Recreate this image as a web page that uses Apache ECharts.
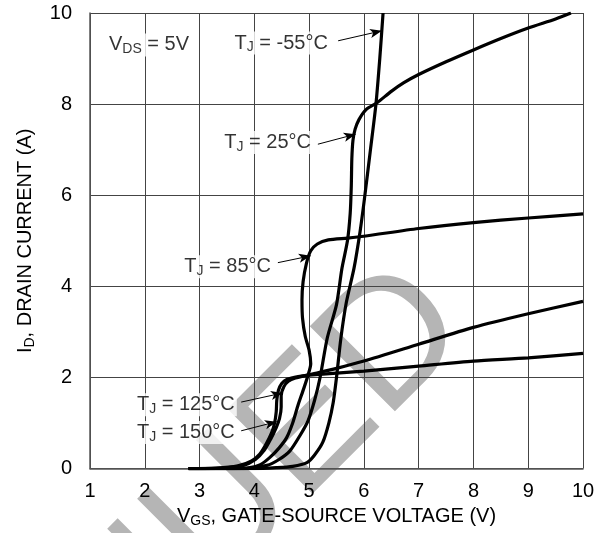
<!DOCTYPE html>
<html>
<head>
<meta charset="utf-8">
<script src="https://cdn.jsdelivr.net/npm/echarts@6/dist/echarts.min.js"></script>
<style>
  html, body { margin: 0; padding: 0; background: #fff; }
  #main { width: 608px; height: 533px; }
</style>
</head>
<body>
<div id="main"></div>
<script>
// V_GS (V), I_D (A) pairs
var tjM55 = [[2.8,0],[4.0,0],[4.4,0.02],[4.7,0.05],[4.96,0.13],[5.1,0.3],[5.25,0.58],[5.36,1.0],[5.44,1.45],[5.5,2.0],[5.58,2.86],[5.68,3.65],[5.82,4.4],[5.93,5.2],[6.01,5.92],[6.12,7.0],[6.22,8.0],[6.29,9.0],[6.35,10]];
var tj25 = [[2.8,0],[3.8,0],[4.23,0.07],[4.45,0.2],[4.65,0.39],[4.82,0.7],[4.98,1.05],[5.1,1.5],[5.2,2.0],[5.33,2.86],[5.5,3.6],[5.6,4.4],[5.7,5.0],[5.75,5.6],[5.77,6.2],[5.78,6.8],[5.8,7.2],[5.84,7.45],[5.91,7.66],[6.04,7.88],[6.24,8.03],[6.5,8.28],[6.73,8.47],[7.0,8.65],[7.5,8.93],[8.0,9.19],[8.5,9.44],[9.0,9.67],[9.5,9.87],[9.78,10]];
var tj85 = [[2.8,0],[3.6,0],[3.92,0.02],[4.1,0.08],[4.28,0.24],[4.45,0.45],[4.59,0.68],[4.7,1.0],[4.8,1.4],[4.9,1.75],[4.98,2.05],[5.03,2.3],[5.0,2.6],[4.93,2.9],[4.88,3.3],[4.87,3.7],[4.89,4.1],[4.95,4.5],[5.03,4.78],[5.15,4.93],[5.35,5.02],[5.7,5.06],[6.0,5.1],[7.0,5.27],[8.0,5.4],[9.0,5.5],[10,5.59]];
var tj125 = [[2.8,0],[3.4,0.01],[3.8,0.07],[4.02,0.2],[4.18,0.4],[4.3,0.65],[4.4,0.9],[4.46,1.1],[4.49,1.35],[4.49,1.6],[4.54,1.8],[4.62,1.92],[4.75,1.99],[5.0,2.06],[5.5,2.2],[6,2.36],[7,2.73],[8,3.1],[9,3.4],[10,3.67]];
var tj150 = [[2.8,0],[3.3,0.01],[3.7,0.06],[3.95,0.17],[4.1,0.32],[4.22,0.55],[4.32,0.8],[4.37,1.0],[4.4,1.25],[4.41,1.5],[4.44,1.72],[4.5,1.87],[4.6,1.96],[4.8,2.02],[5.0,2.05],[6,2.14],[7,2.25],[8,2.36],[9,2.43],[10,2.53]];

// callouts: text, where the text ends, arrow start, arrow tip
var noteText = ['-55°C', '25°C', '85°C', '125°C', '150°C'];
var noteAt = [[5.38,9.34],[5.07,7.16],[4.34,4.43],[3.68,1.40],[3.68,0.79]];
var arrowFrom = [[5.53,9.39],[5.16,7.12],[4.43,4.52],[3.76,1.46],[3.76,0.83]];
var arrowTo = [[6.33,9.61],[5.85,7.34],[5.03,4.67],[4.52,1.66],[4.41,1.03]];
var vdsAt = [1.31, 9.30];

var FONT = '"Liberation Sans", Arial, sans-serif';
var rich = {
  m: { fontSize: 20, fontFamily: FONT, color: '#000', lineHeight: 23 },
  s: { fontSize: 14, fontFamily: FONT, color: '#000', lineHeight: 12, verticalAlign: 'bottom' }
};

var curve = function (d) {
  return {
    type: 'line', data: d, showSymbol: false, smooth: 0.25, z: 2,
    lineStyle: { color: '#000', width: 3.2 }, silent: true
  };
};

var noteData = noteText.map(function (t, k) {
  return { value: noteAt[k], label: { formatter: '{m|T}{s|J}{m| = ' + t + '}' } };
});
noteData.push({ value: vdsAt, label: { position: 'right', formatter: '{m|V}{s|DS}{m| = 5V}' } });

var chart = echarts.init(document.getElementById('main'));
chart.setOption({
  animation: false,
  backgroundColor: '#fff',
  grid: { left: 90, right: 25, top: 13, bottom: 62 },
  xAxis: {
    type: 'value', min: 1, max: 10, interval: 1,
    name: '{m|V}{s|GS}{m|, GATE-SOURCE VOLTAGE (V)}',
    nameLocation: 'middle', nameGap: 32,
    nameTextStyle: { rich: rich },
    axisLine: { show: true, lineStyle: { color: '#555', width: 1.5 } },
    axisTick: { show: false },
    axisLabel: { margin: 13, fontSize: 20, fontFamily: FONT, color: '#000' },
    splitLine: { show: true, lineStyle: { color: '#444', width: 1 } }
  },
  yAxis: {
    type: 'value', min: 0, max: 10, interval: 2,
    name: '{m|I}{s|D}{m|, DRAIN CURRENT (A)}',
    nameLocation: 'middle', nameGap: 53, nameRotate: 90,
    nameTextStyle: { rich: rich },
    axisLine: { show: true, lineStyle: { color: '#555', width: 1.5 } },
    axisTick: { show: false },
    axisLabel: { margin: 18, fontSize: 20, fontFamily: FONT, color: '#000' },
    splitLine: { show: true, lineStyle: { color: '#444', width: 1 } }
  },
  graphic: [{
    type: 'text', x: 440, y: 298, rotation: Math.PI / 4, z: -1, silent: true,
    style: { text: 'DISCONTINUED', font: '175px ' + FONT, fill: '#b5b5b5', align: 'right', verticalAlign: 'middle' }
  }],
  series: [
    curve(tjM55), curve(tj25), curve(tj85), curve(tj125), curve(tj150),
    {
      type: 'scatter', data: noteData, symbolSize: 0, z: 5, silent: true,
      label: {
        show: true, position: 'left', distance: 0,
        backgroundColor: '#fff', padding: [0, 2], rich: rich
      },
      markLine: {
        silent: true, symbol: ['none', 'arrow'], symbolSize: [7, 12],
        lineStyle: { color: '#000', width: 1, type: 'solid' },
        label: { show: false },
        data: arrowFrom.map(function (p, k) {
          return [{ coord: p }, { coord: arrowTo[k] }];
        })
      }
    }
  ]
});
</script>
</body>
</html>
